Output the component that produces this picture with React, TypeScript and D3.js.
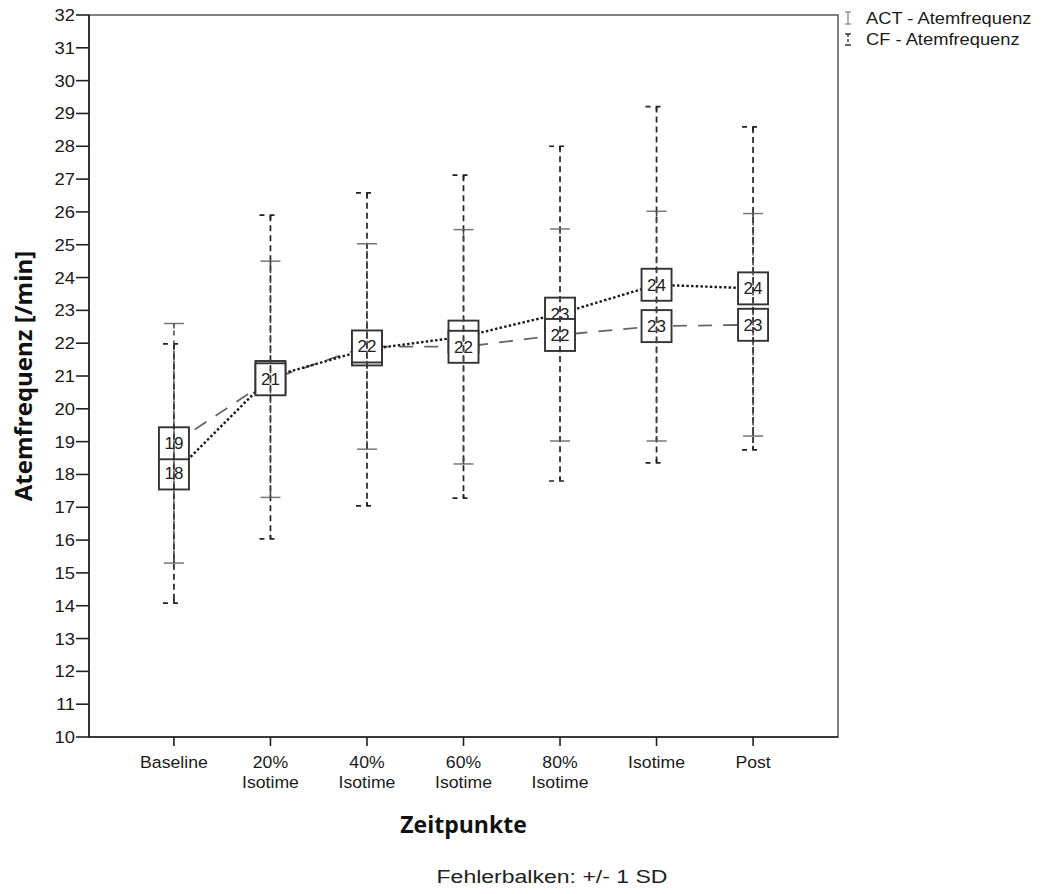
import React from "react";
import * as d3 from "d3";

const categories: string[][] = [
  ["Baseline"],
  ["20%", "Isotime"],
  ["40%", "Isotime"],
  ["60%", "Isotime"],
  ["80%", "Isotime"],
  ["Isotime"],
  ["Post"],
];
const yTicks = d3.range(10, 33, 1);

const actMean = [18.95, 20.9, 21.9, 21.89, 22.25, 22.52, 22.56];
const actSD = [3.65, 3.6, 3.13, 3.57, 3.23, 3.5, 3.39];
const cfMean = [18.03, 20.97, 21.81, 22.2, 22.9, 23.78, 23.67];
const cfSD = [3.95, 4.93, 4.77, 4.92, 5.1, 5.43, 4.92];

const legendItems = ["ACT - Atemfrequenz", "CF - Atemfrequenz"];

const W = 1052;
const H = 894;
const left = 89;
const right = 838;
const top = 15;
const bottom = 737;

const FONT = "'Liberation Sans', Arial, sans-serif";
const BOLD = "'Open Sans', 'DejaVu Sans', sans-serif";
const INK = "#1a1a1a";

function SText(props: {
  x: number;
  y: number;
  sx?: number;
  size: number;
  anchor?: string;
  weight?: string | number;
  family?: string;
  fill?: string;
  children: React.ReactNode;
}) {
  const { x, y, sx = 1, size, anchor = "start", weight = "normal", family = FONT, fill = INK } = props;
  return (
    <g transform={`translate(${x},${y}) scale(${sx},1)`}>
      <text
        x={0}
        y={0}
        fontSize={size}
        textAnchor={anchor}
        fontWeight={weight}
        fontFamily={family}
        fill={fill}
      >
        {props.children}
      </text>
    </g>
  );
}

export default function App() {
  const x = d3
    .scalePoint<number>()
    .domain(categories.map((_, i) => i))
    .range([left, right])
    .padding(0.88);
  const y = d3.scaleLinear().domain([10, 32]).range([bottom, top]);

  const idx = categories.map((_, i) => i);
  const lineGen = (means: number[]) =>
    d3
      .line<number>()
      .x((i) => x(i) as number)
      .y((i) => y(means[i]))(idx) as string;

  const boxW = 30;
  const boxH = 32;

  // a CF label is hidden when the ACT box (drawn on top) covers its centre
  const cfLabelVisible = (i: number) => Math.abs(y(cfMean[i]) - y(actMean[i])) >= boxH / 2;

  const renderBoxes = (means: number[], key: string, showLabel: (i: number) => boolean) =>
    idx.map((i) => {
      const cx = x(i) as number;
      const cy = y(means[i]);
      return (
        <g key={key + i}>
          <rect
            x={cx - boxW / 2}
            y={cy - boxH / 2}
            width={boxW}
            height={boxH}
            fill="#fff"
            stroke="#333"
            strokeWidth={1.9}
          />
          {showLabel(i) && (
            <SText x={cx} y={cy + 6} size={17} sx={1.0} anchor="middle" fill="#222">
              {Math.round(means[i])}
            </SText>
          )}
        </g>
      );
    });

  return (
    <svg width={W} height={H} style={{ display: "block", position: "absolute", left: 0, top: 0 }}>
      <rect x={0} y={0} width={W} height={H} fill="#fff" />

      {/* frame */}
      <rect x={left} y={top} width={right - left} height={bottom - top} fill="none" stroke="#555" strokeWidth={1.5} />
      <line x1={left} x2={left} y1={top} y2={bottom} stroke="#222" strokeWidth={1.6} />
      <line x1={left} x2={right} y1={bottom} y2={bottom} stroke="#222" strokeWidth={1.6} />

      {/* y axis ticks */}
      {yTicks.map((t) => (
        <g key={"yt" + t}>
          <line x1={left - 13} x2={left} y1={y(t)} y2={y(t)} stroke="#222" strokeWidth={1.6} />
          <SText x={left - 14} y={y(t) + 6} size={16} sx={1.15} anchor="end">
            {t}
          </SText>
        </g>
      ))}

      {/* x axis ticks */}
      {categories.map((lines, i) => (
        <g key={"xt" + i}>
          <line x1={x(i) as number} x2={x(i) as number} y1={bottom} y2={bottom + 9} stroke="#222" strokeWidth={1.6} />
          {lines.map((l, j) => (
            <SText key={j} x={x(i) as number} y={bottom + 31 + j * 20} size={16.5} sx={1.07} anchor="middle">
              {l}
            </SText>
          ))}
        </g>
      ))}

      {/* mean lines */}
      <path d={lineGen(actMean)} fill="none" stroke="#666" strokeWidth={1.8} strokeDasharray="14,11" />
      <path d={lineGen(cfMean)} fill="none" stroke="#1a1a1a" strokeWidth={2.4} strokeDasharray="2.5,2.2" />

      {/* boxes with labels: CF first, ACT on top */}
      {renderBoxes(cfMean, "cfb", cfLabelVisible)}
      {renderBoxes(actMean, "actb", () => true)}

      {/* error bars CF (dashed caps) */}
      {idx.map((i) => {
        const cx = x(i) as number;
        const hi = y(cfMean[i] + cfSD[i]);
        const lo = y(cfMean[i] - cfSD[i]);
        return (
          <g key={"cfe" + i} stroke="#222" strokeWidth={1.7} fill="none">
            <line x1={cx} x2={cx} y1={hi} y2={lo} strokeDasharray="6,4" />
            <path d={`M${cx - 11},${hi} H${cx - 6} M${cx},${hi + 4} V${hi} H${cx + 4}`} />
            <path d={`M${cx - 11},${lo} H${cx - 6} M${cx},${lo - 4} V${lo} H${cx + 4}`} />
          </g>
        );
      })}

      {/* error bars ACT (solid caps) */}
      {idx.map((i) => {
        const cx = x(i) as number;
        const hi = y(actMean[i] + actSD[i]);
        const lo = y(actMean[i] - actSD[i]);
        return (
          <g key={"acte" + i} stroke="#444" strokeWidth={1.5} fill="none">
            <line x1={cx} x2={cx} y1={hi} y2={lo} strokeDasharray="5,5" strokeDashoffset={3} />
            <line x1={cx - 10} x2={cx + 10} y1={hi} y2={hi} stroke="#777" />
            <line x1={cx - 10} x2={cx + 10} y1={lo} y2={lo} stroke="#777" />
            <line x1={cx} x2={cx} y1={hi} y2={hi + 5} />
            <line x1={cx} x2={cx} y1={lo - 5} y2={lo} />
          </g>
        );
      })}

      {/* axis titles */}
      <g transform={`translate(24,${(top + bottom) / 2}) rotate(-90)`}>
        <text x={0} y={8} fontSize={24} fontWeight="bold" fontFamily={BOLD} textAnchor="middle" fill="#111">
          Atemfrequenz [/min]
        </text>
      </g>
      <text x={(left + right) / 2} y={833} fontSize={23} fontWeight="bold" fontFamily={BOLD} textAnchor="middle" fill="#111">
        Zeitpunkte
      </text>
      <SText x={552} y={883} size={18} sx={1.28} anchor="middle" fill="#222">
        Fehlerbalken: +/- 1 SD
      </SText>

      {/* legend */}
      <g>
        <g stroke="#888" strokeWidth={1.3}>
          <line x1={848} x2={848} y1={12} y2={24} />
          <line x1={845} x2={851} y1={12} y2={12} />
          <line x1={845} x2={851} y1={24} y2={24} />
        </g>
        <g stroke="#222" strokeWidth={1.3}>
          <line x1={848} x2={848} y1={34} y2={45} strokeDasharray="3,2" />
          <line x1={845} x2={851} y1={34} y2={34} />
          <line x1={845} x2={851} y1={45} y2={45} />
        </g>
        {legendItems.map((t, i) => (
          <SText key={t} x={866} y={24 + i * 21} size={16.5} sx={1.11} fill="#1a1a1a">
            {t}
          </SText>
        ))}
      </g>
    </svg>
  );
}
